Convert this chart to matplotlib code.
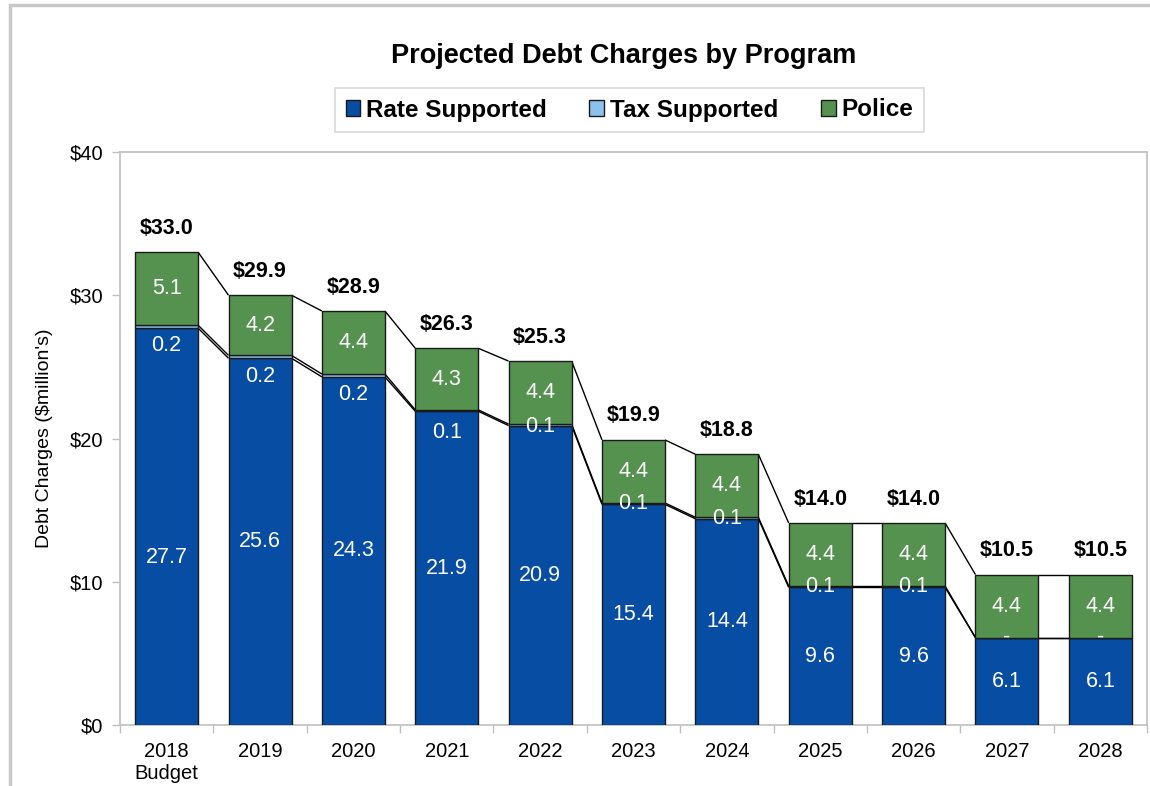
import matplotlib
matplotlib.use("Agg")
import matplotlib.pyplot as plt
from matplotlib.patches import Rectangle
import numpy as np

plt.rcParams['font.family'] = ['Liberation Sans', 'DejaVu Sans']

# ---- data ----
categories = ["2018\nBudget", "2019", "2020", "2021", "2022", "2023",
              "2024", "2025", "2026", "2027", "2028"]
rate_supported = [27.7, 25.6, 24.3, 21.9, 20.9, 15.4, 14.4, 9.6, 9.6, 6.1, 6.1]
tax_supported = [0.2, 0.2, 0.2, 0.1, 0.1, 0.1, 0.1, 0.1, 0.1, 0.0, 0.0]
police = [5.1, 4.2, 4.4, 4.3, 4.4, 4.4, 4.4, 4.4, 4.4, 4.4, 4.4]
totals = [33.0, 29.9, 28.9, 26.3, 25.3, 19.9, 18.8, 14.0, 14.0, 10.5, 10.5]
yticks = [0, 10, 20, 30, 40]

# label offsets (pixels, downward) as placed in the original
rate_label_shift = [31, 0, 0, 0, 0, 0, 0, 0, 0, 0, 0]
tax_label_shift = [19, 20, 19, 22, 2, 0, 0, 0, 0, 0, 0]

c_rate = "#074DA3"
c_tax = "#8DC0EA"
c_police = "#559250"
edge = "#1a1a1a"

fig = plt.figure(figsize=(11.5, 7.86), dpi=100)
ax = fig.add_axes([120/1150, 1-725/786, (1147-120)/1150, (725-152)/786])

x = np.arange(len(categories))
w = 0.675
rate = np.array(rate_supported)
tax = np.array(tax_supported)
pol = np.array(police)

ax.bar(x, rate, w, color=c_rate, edgecolor=edge, linewidth=1.0, label="Rate Supported", zorder=3)
ax.bar(x, tax, w, bottom=rate, color=c_tax, edgecolor=edge, linewidth=1.0, label="Tax Supported", zorder=3)
ax.bar(x, pol, w, bottom=rate + tax, color=c_police, edgecolor=edge, linewidth=1.0, label="Police", zorder=3)

# series lines
levels = [rate, rate + tax, rate + tax + pol]
for lev in levels:
    for i in range(len(x) - 1):
        ax.plot([x[i] + w/2, x[i+1] - w/2], [lev[i], lev[i+1]], color="black",
                lw=1.0, zorder=2, solid_capstyle="butt")

# labels
for i in range(len(x)):
    ax.annotate(f"{rate[i]:.1f}", (x[i], rate[i]/2), xytext=(0, -rate_label_shift[i]),
                textcoords="offset pixels", ha="center", va="center",
                color="white", fontsize=15.5, zorder=5)
    ttxt = "-" if tax[i] == 0 else f"{tax[i]:.1f}"
    ax.annotate(ttxt, (x[i], rate[i] + tax[i]/2), xytext=(0, -tax_label_shift[i]),
                textcoords="offset pixels", ha="center", va="center",
                color="white", fontsize=15.5, zorder=5)
    ax.annotate(f"{pol[i]:.1f}", (x[i], rate[i] + tax[i] + pol[i]/2),
                ha="center", va="center", color="white", fontsize=15.5, zorder=5)
    ax.annotate(f"${totals[i]:.1f}", (x[i], rate[i] + tax[i] + pol[i]), xytext=(0, 24),
                textcoords="offset pixels", ha="center", va="center",
                color="black", fontsize=15.5, fontweight="bold", zorder=5)

ax.set_xlim(-0.5, len(x) - 0.5)
ax.set_ylim(0, 40)
ax.set_yticks(yticks)
ax.set_yticklabels([f"${v}" for v in yticks])
ax.set_xticks(x)
ax.set_xticklabels(categories)
ax.set_xticks(np.arange(-0.5, len(x), 1.0), minor=True)
ax.tick_params(axis="x", which="major", length=0, labelsize=14.5, pad=12)
ax.tick_params(axis="x", which="minor", length=6, color="#BFBFBF", width=1)
ax.tick_params(axis="y", length=6, color="#BFBFBF", width=1, labelsize=14.5, pad=6)
for s in ax.spines.values():
    s.set_color("#BFBFBF")
    s.set_linewidth(1.2)
ax.set_ylabel("Debt Charges ($million's)", fontsize=14, labelpad=12)

fig.text(0.5426, 1-56/786, "Projected Debt Charges by Program", ha="center", va="center",
         fontsize=19.5, fontweight="bold")

handles, labels = ax.get_legend_handles_labels()
leg = fig.legend(handles, labels, loc="center", bbox_to_anchor=(629.5/1150, 1-110/786),
                 ncol=3, frameon=True, fancybox=False, edgecolor="#D0D0D0",
                 prop={"weight": "bold", "size": 17.5}, handlelength=0.6, handleheight=0.6,
                 handletextpad=0.25, columnspacing=1.75, borderpad=0.45, borderaxespad=0)
leg.get_frame().set_linewidth(1.2)

# outer chart border
fig.patches.append(Rectangle((10/1150, -0.05), 1.2, 1 - 5/786 + 0.05, transform=fig.transFigure,
                             fill=False, edgecolor="#C8C8C8", linewidth=2.5, zorder=0))

fig.savefig("out.png", dpi=100)
